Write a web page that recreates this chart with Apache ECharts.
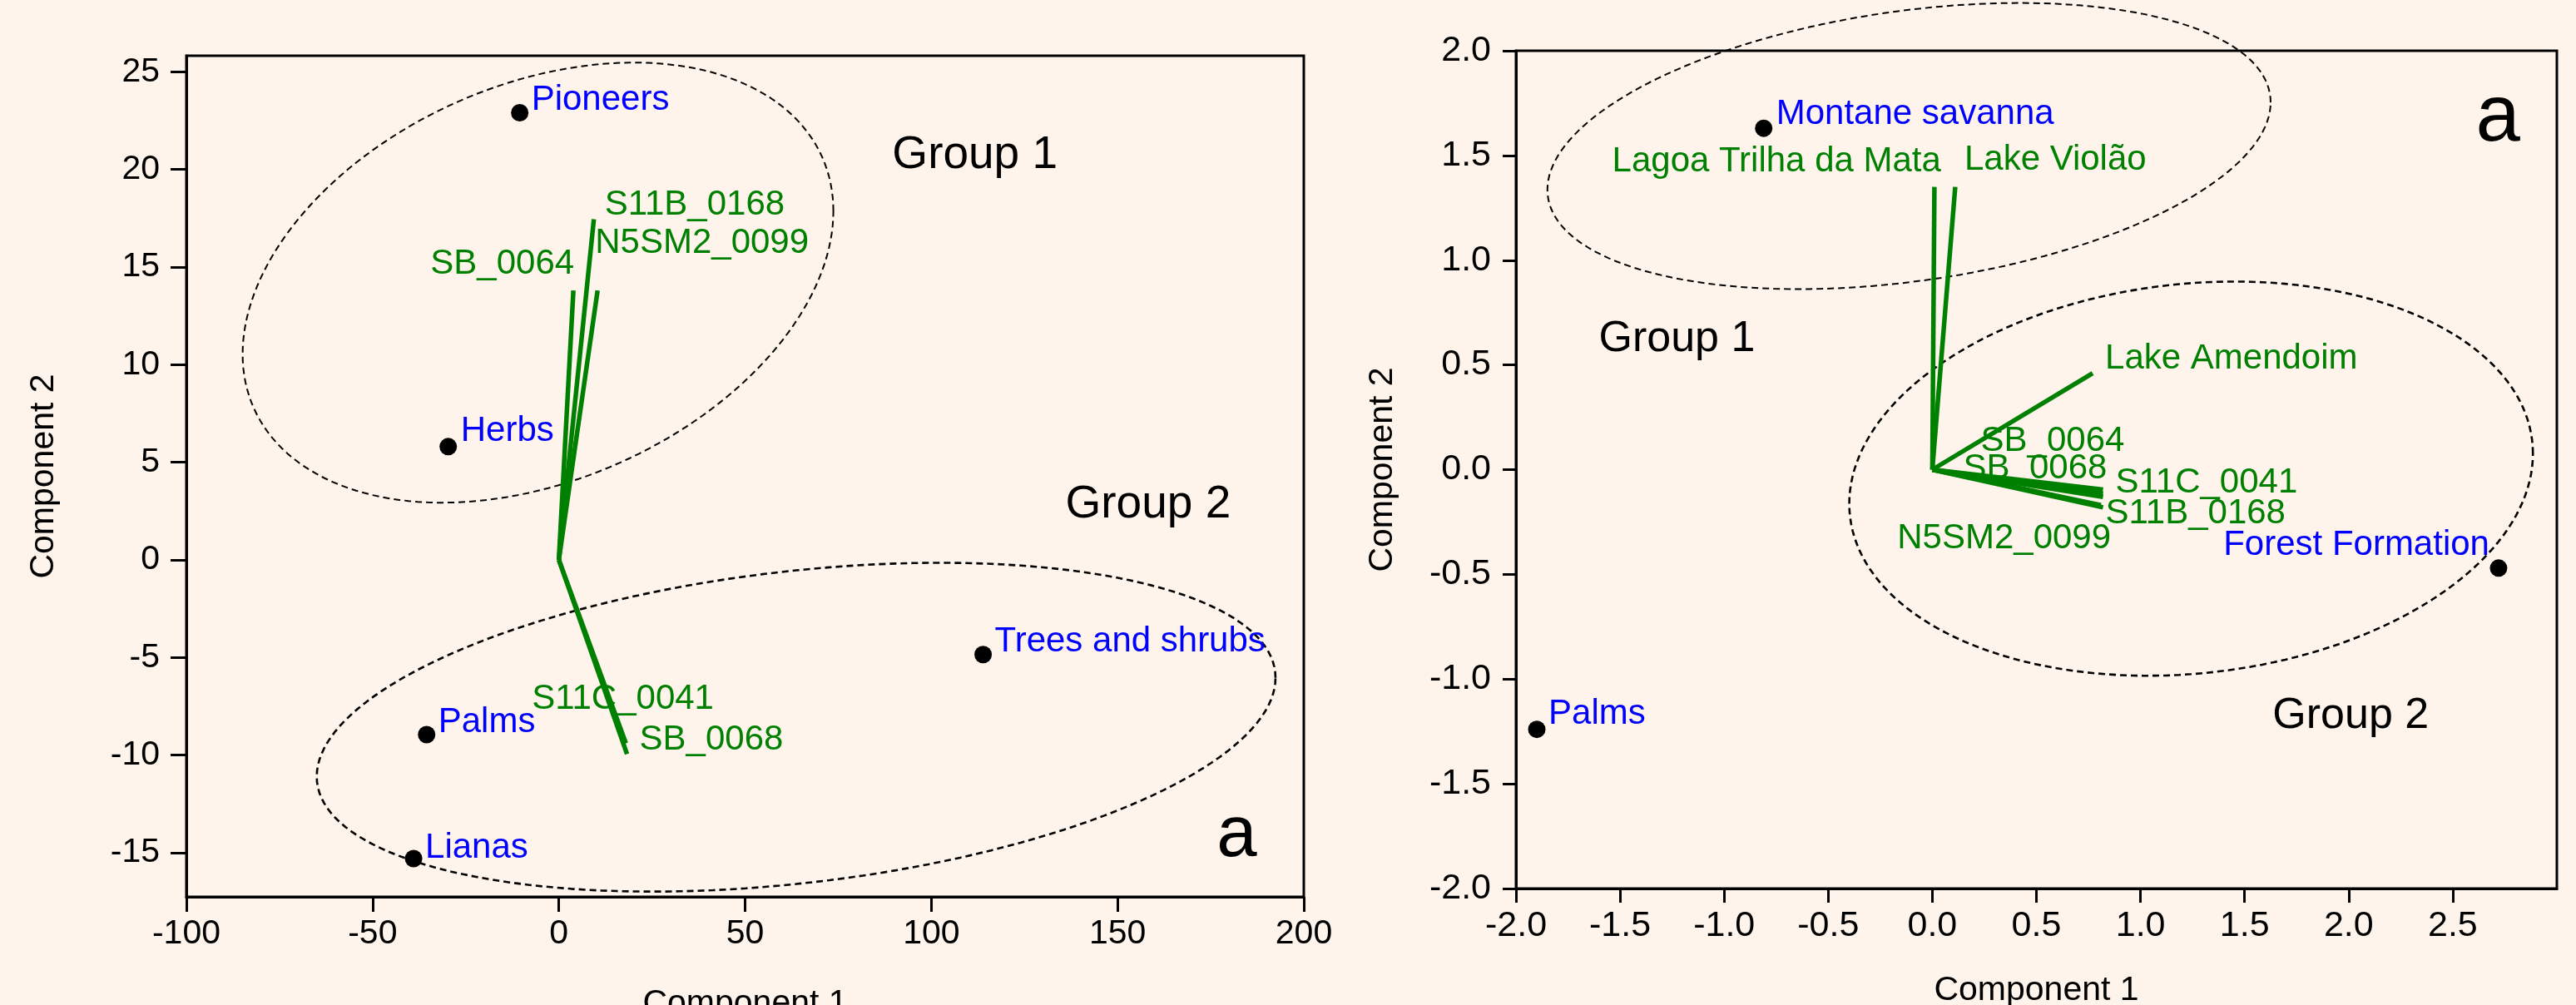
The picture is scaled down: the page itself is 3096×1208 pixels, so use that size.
<!DOCTYPE html>
<html><head><meta charset="utf-8">
<script src="https://cdn.jsdelivr.net/npm/echarts@6/dist/echarts.min.js"></script>
<style>html,body{margin:0;padding:0;background:#FEF4EB}#c{width:3096px;height:1208px}</style>
</head><body><div id="c"></div>
<script>
// ---------- Left panel data ----------
const leftPointNames = ['Pioneers', 'Herbs', 'Trees and shrubs', 'Palms', 'Lianas'];
const leftPointX = [-10.5, -29.7, 113.9, -35.5, -39.0];
const leftPointY = [22.9, 5.8, -4.85, -8.95, -15.3];
const leftVectorNames = ['SB_0064', 'S11B_0168', 'N5SM2_0099', 'S11C_0041', 'SB_0068'];
const leftVectorX = [3.9, 9.4, 10.4, 18.0, 18.3];
const leftVectorY = [13.8, 17.45, 13.8, -9.4, -9.95];
// ellipse parameters: centre x, centre y, half-width, half-height, correlation
const leftEllipse1 = [-5.6, 14.2, 79.3, 11.27, 0.325];
const leftEllipse2 = [63.7, -8.57, 128.7, 8.42, 0.30];
const leftNoteTexts = ['Group 1', 'Group 2', 'a'];
const leftNoteX = [111.7, 158.2, 182];
const leftNoteY = [20.70, 2.80, -14.15];
const leftXTicks = [-100, -50, 0, 50, 100, 150, 200];
const leftYTicks = [-15, -10, -5, 0, 5, 10, 15, 20, 25];

// ---------- Right panel data ----------
const rightPointNames = ['Montane savanna', 'Palms', 'Forest Formation'];
const rightPointX = [-0.81, -1.9, 2.72];
const rightPointY = [1.63, -1.24, -0.47];
const rightVectorNames = ['Lagoa Trilha da Mata', 'Lake Violão', 'Lake Amendoim', 'SB_0064', 'SB_0068', 'S11C_0041', 'S11B_0168', 'N5SM2_0099'];
const rightVectorX = [0.01, 0.11, 0.77, 0.82, 0.82, 0.82, 0.82, 0.81];
const rightVectorY = [1.35, 1.35, 0.46, -0.115, -0.13, -0.095, -0.18, -0.17];
const rightEllipse1 = [-0.112, 1.545, 1.737, 0.683, 0.305];
const rightEllipse2 = [1.243, -0.043, 1.642, 0.941, 0.127];
const rightNoteTexts = ['Group 1', 'Group 2', 'a'];
const rightNoteX = [-1.227, 2.01, 2.717];
const rightNoteY = [0.622, -1.178, 1.675];
const rightXTicks = [-2, -1.5, -1, -0.5, 0, 0.5, 1, 1.5, 2, 2.5];
const rightYTicks = [-2, -1.5, -1, -0.5, 0, 0.5, 1, 1.5, 2];

// ---------- Styles (label offsets in pixels) ----------
const FONT = "'Liberation Sans', Arial, sans-serif";
const GREEN = '#008000', BLUE = '#0000FF', BG = '#FEF4EB';
const leftPointLabel = {
  'Pioneers': ['left', 14, -15], 'Herbs': ['left', 15, -18], 'Trees and shrubs': ['left', 14, -15],
  'Palms': ['left', 14, -15], 'Lianas': ['left', 14, -13]
};
const leftVectorLabel = {
  'SB_0064': ['right', 1, -32], 'S11B_0168': ['left', 13, -17], 'N5SM2_0099': ['left', -3, -57],
  'S11C_0041': ['left', -113, -53], 'SB_0068': ['left', 15, -17]
};
const rightPointLabel = {
  'Montane savanna': ['left', 15, -17], 'Palms': ['left', 14, -18], 'Forest Formation': ['right', -11, -27]
};
const rightVectorLabel = {
  'Lagoa Trilha da Mata': ['right', 8, -30], 'Lake Violão': ['left', 11, -32], 'Lake Amendoim': ['left', 15, -17],
  'SB_0064': ['left', -147, -63], 'SB_0068': ['left', -168, -34], 'S11C_0041': ['left', 15, -8],
  'S11B_0168': ['left', 3, 8], 'N5SM2_0099': ['right', 12, 40]
};

function ellipsePoints(p) {
  const [cx, cy, rx, ry, rho] = p;
  const pts = [];
  const s = Math.sqrt(1 - rho * rho);
  for (let d = 0; d <= 360; d += 2) {
    const t = d * Math.PI / 180;
    pts.push([cx + rx * Math.cos(t), cy + ry * (rho * Math.cos(t) + s * Math.sin(t))]);
  }
  return pts;
}

function panelSeries(idx, pNames, pX, pY, pLab, vNames, vX, vY, vLab, e1, e2, nT, nX, nY, fs, noteFs, aFs) {
  const out = [];
  out.push({ type: 'line', xAxisIndex: idx, yAxisIndex: idx, data: ellipsePoints(e1), showSymbol: false, symbol: 'none',
    clip: false, silent: true, lineStyle: { color: '#000', width: 2, type: [8, 5] }, z: 1 });
  out.push({ type: 'line', xAxisIndex: idx, yAxisIndex: idx, data: ellipsePoints(e2), showSymbol: false, symbol: 'none',
    clip: false, silent: true, lineStyle: { color: '#000', width: 2.6, type: [8, 5] }, z: 1 });
  vNames.forEach((n, i) => {
    out.push({ type: 'line', xAxisIndex: idx, yAxisIndex: idx, data: [[0, 0], [vX[i], vY[i]]], showSymbol: false,
      symbol: 'none', silent: true, lineStyle: { color: GREEN, width: 5.5, cap: 'butt', opacity: 1 }, z: 3 });
  });
  out.push({ type: 'scatter', xAxisIndex: idx, yAxisIndex: idx, symbolSize: 1, silent: true, z: 5,
    itemStyle: { color: 'transparent', opacity: 1 },
    data: vNames.map((n, i) => ({ value: [vX[i], vY[i]], name: n, label: { show: true, position: 'inside',
      formatter: n, align: vLab[n][0], verticalAlign: 'middle', offset: [vLab[n][1], vLab[n][2]],
      color: GREEN, opacity: 1, fontSize: fs, fontFamily: FONT } })) });
  out.push({ type: 'scatter', xAxisIndex: idx, yAxisIndex: idx, symbolSize: 21, silent: true, z: 6,
    itemStyle: { color: '#000', opacity: 1 },
    data: pNames.map((n, i) => ({ value: [pX[i], pY[i]], name: n, label: { show: true, position: 'inside',
      formatter: n, align: pLab[n][0], verticalAlign: 'middle', offset: [pLab[n][1], pLab[n][2]],
      color: BLUE, opacity: 1, fontSize: fs, fontFamily: FONT } })) });
  out.push({ type: 'scatter', xAxisIndex: idx, yAxisIndex: idx, symbolSize: 1, silent: true, z: 5,
    itemStyle: { color: 'transparent', opacity: 1 },
    data: nT.map((t, i) => ({ value: [nX[i], nY[i]], name: t, label: { show: true, position: 'inside',
      formatter: t, align: 'center', verticalAlign: 'middle', color: '#000', opacity: 1,
      fontSize: t === 'a' ? aFs : noteFs, fontFamily: FONT } })) });
  return out;
}

function axisCommon(ticks, fmt, margin, fs, tickLen) {
  return {
    type: 'value',
    axisLine: { show: true, onZero: false, lineStyle: { color: '#000', width: 3 } },
    axisTick: { show: true, inside: false, length: tickLen, customValues: ticks, lineStyle: { color: '#000', width: 3 } },
    axisLabel: { show: true, customValues: ticks, formatter: fmt, margin: margin, color: '#000', fontSize: fs, fontFamily: FONT },
    splitLine: { show: false },
    nameLocation: 'middle',
    nameTextStyle: { color: '#000', fontSize: 41, fontFamily: FONT }
  };
}

const chart = echarts.init(document.getElementById('c'), null, { renderer: 'canvas' });
const intFmt = v => String(Math.round(v));
const decFmt = v => v.toFixed(1);

chart.setOption({
  backgroundColor: BG,
  animation: false,
  grid: [
    { left: 224, top: 67, width: 1343, height: 1011, show: true, borderColor: '#000', borderWidth: 3,
      backgroundColor: 'transparent', containLabel: false, outerBoundsMode: 'none' },
    { left: 1822, top: 61, width: 1251, height: 1007, show: true, borderColor: '#000', borderWidth: 3,
      backgroundColor: 'transparent', containLabel: false, outerBoundsMode: 'none' }
  ],
  xAxis: [
    Object.assign(axisCommon(leftXTicks, intFmt, 24, 41, 18), { gridIndex: 0, min: -100, max: 200, name: 'Component 1', nameGap: 108 }),
    Object.assign(axisCommon(rightXTicks, decFmt, 24, 43, 17), { gridIndex: 1, min: -2, max: 3, name: 'Component 1', nameGap: 102 })
  ],
  yAxis: [
    Object.assign(axisCommon(leftYTicks, intFmt, 32, 41, 19), { gridIndex: 0, min: -17.26, max: 25.82, name: 'Component 2', nameGap: 151 }),
    Object.assign(axisCommon(rightYTicks, decFmt, 30, 43, 16), { gridIndex: 1, min: -2, max: 2, name: 'Component 2', nameGap: 140 })
  ],
  series: [].concat(
    panelSeries(0, leftPointNames, leftPointX, leftPointY, leftPointLabel, leftVectorNames, leftVectorX, leftVectorY,
      leftVectorLabel, leftEllipse1, leftEllipse2, leftNoteTexts, leftNoteX, leftNoteY, 42, 55, 87),
    panelSeries(1, rightPointNames, rightPointX, rightPointY, rightPointLabel, rightVectorNames, rightVectorX, rightVectorY,
      rightVectorLabel, rightEllipse1, rightEllipse2, rightNoteTexts, rightNoteX, rightNoteY, 42, 52, 96)
  )
});
</script>
</body></html>
